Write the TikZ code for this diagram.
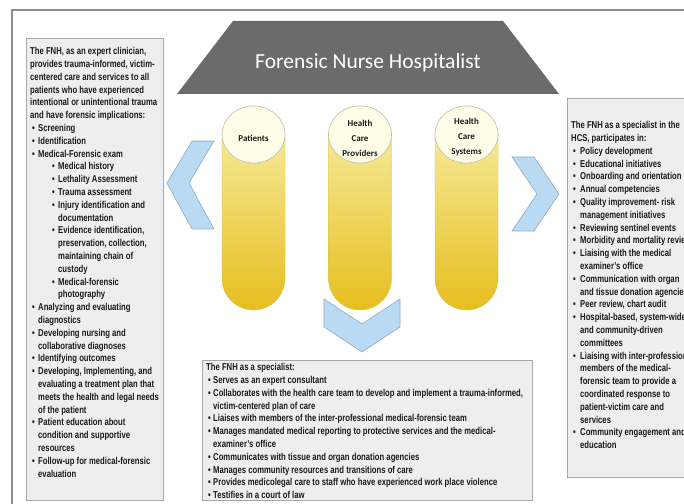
\documentclass[tikz,border=0pt]{standalone}
\usepackage{fontspec}
\setmainfont{Liberation Sans}
\newfontfamily\narrow{Liberation Sans}[FakeStretch=0.77]
\newfontfamily\calib{Carlito}
\usetikzlibrary{shapes.geometric}
\definecolor{panelfill}{HTML}{EEEEEE}
\definecolor{panelline}{HTML}{A8A8A8}
\definecolor{framecol}{HTML}{8E8E8E}
\definecolor{txtcol}{HTML}{1A1A1A}
\definecolor{chevfill}{HTML}{BADAF3}
\definecolor{chevline}{HTML}{8EAAC4}
\definecolor{titlegray}{HTML}{6B6B6B}
\definecolor{cyltop}{HTML}{F8F0A8}
\definecolor{cylbot}{HTML}{E6BE1E}
\definecolor{cylline}{HTML}{D8C060}
\definecolor{capfill}{HTML}{FFFDE8}
\definecolor{capline}{HTML}{BDBDA8}
\newcommand\bu{\hspace*{2bp}\makebox[6bp][l]{•}}
\newcommand\co{\hspace*{8bp}}
\newcommand\sbu{\hspace*{22bp}\makebox[6bp][l]{•}}
\newcommand\sco{\hspace*{28bp}}
\newcommand\rbu{\hspace*{2bp}\makebox[7bp][l]{•}}
\newcommand\rco{\hspace*{9bp}}
\newcommand\bbu{\hspace*{2bp}\makebox[5bp][l]{•}}
\newcommand\bco{\hspace*{7bp}}
\tikzset{
  panel/.style={rectangle, draw=panelline, fill=panelfill, line width=0.9bp, inner sep=0, anchor=north west},
  bodytxt/.style={font=\narrow\bfseries\fontsize{10bp}{12.8bp}\selectfont, align=left, inner sep=0, text=txtcol, anchor=north west},
  chev/.style={fill=chevfill, draw=chevline, line width=0.6bp, line join=miter},
  cylbody/.style={rectangle, rounded corners=31.5bp, minimum width=63bp, minimum height=204bp, inner sep=0, top color=cyltop, bottom color=cylbot, draw=cylline, line width=0.3bp},
  cylcap/.style={ellipse, minimum width=63bp, minimum height=57bp, inner sep=0, fill=capfill, draw=capline, line width=0.6bp},
  cyllabel/.style={font=\calib\bfseries\fontsize{9bp}{15bp}\selectfont, align=center, text=txtcol, inner sep=0},
  frameline/.style={draw=framecol, line width=1.2bp},
  titletxt/.style={font=\calib\fontsize{21.5bp}{24bp}\selectfont, text=white, inner sep=0}
}
\begin{document}
\begin{tikzpicture}[x=1bp,y=-1bp]
\useasboundingbox (0,0) rectangle (684,504);
\clip (0,0) rectangle (684,504);
\fill[white] (0,0) rectangle (684,504);
% frame
\coordinate (fb) at (12,504);
\coordinate (fc) at (12,10);
\coordinate (fr) at (684,10);
\draw[frameline] (fb) -- (fc) -- (fr);
% title
\fill[titlegray] (233,21) -- (503,21) -- (559,94) -- (177,94) -- cycle;
\node[titletxt] (title) at (368,63) {Forensic Nurse Hospitalist};
% chevrons
\draw[chev] (167,183) -- (192,141) -- (214,141) -- (189,183) -- (214,229) -- (192,229) -- cycle;
\draw[chev] (512,157) -- (534,157) -- (559,194) -- (534,231) -- (512,231) -- (537,194) -- cycle;
% cylinders
\node[cylbody] (cylA) at (253.5,208) {};
\node[cylbody] (cylB) at (360,208) {};
\node[cylbody] (cylC) at (466.5,208) {};
\draw[chev] (324,299) -- (362,324) -- (400,299) -- (400,327) -- (362,352) -- (324,327) -- cycle;
\node[cylcap] (capA) at (253.5,134.5) {};
\node[cylcap] (capB) at (360,134.5) {};
\node[cylcap] (capC) at (466.5,134.5) {};
\node[cyllabel] (labA) at (253.5,138) {Patients};
\node[cyllabel] (labB) at (360,138) {Health\\Care\\Providers};
\node[cyllabel] (labC) at (466.5,137) {Health\\Care\\Systems};
% panels
\node[panel, minimum width=137bp, minimum height=462bp] (lpanel) at (26,38) {};
\node[panel, minimum width=140bp, minimum height=379bp] (rpanel) at (567,98) {};
\node[panel, minimum width=330bp, minimum height=140bp] (bpanel) at (202,360) {};
% left text
\node[bodytxt] (ltext) at (30,47.3) {The FNH, as an expert clinician,\\
provides trauma-informed, victim-\\
centered care and services to all\\
patients who have experienced\\
intentional or unintentional trauma\\
and have forensic implications:\\
\bu Screening\\
\bu Identification\\
\bu Medical-Forensic exam\\
\sbu Medical history\\
\sbu Lethality Assessment\\
\sbu Trauma assessment\\
\sbu Injury identification and\\
\sco documentation\\
\sbu Evidence identification,\\
\sco preservation, collection,\\
\sco maintaining chain of\\
\sco custody\\
\sbu Medical-forensic\\
\sco photography\\
\bu Analyzing and evaluating\\
\co diagnostics\\
\bu Developing nursing and\\
\co collaborative diagnoses\\
\bu Identifying outcomes\\
\bu Developing, Implementing, and\\
\co evaluating a treatment plan that\\
\co meets the health and legal needs\\
\co of the patient\\
\bu Patient education about\\
\co condition and supportive\\
\co resources\\
\bu Follow-up for medical-forensic\\
\co evaluation};
% right text
\node[bodytxt] (rtext) at (571,121.3) {The FNH as a specialist in the\\
HCS, participates in:\\
\rbu Policy development\\
\rbu Educational initiatives\\
\rbu Onboarding and orientation\\
\rbu Annual competencies\\
\rbu Quality improvement- risk\\
\rco management initiatives\\
\rbu Reviewing sentinel events\\
\rbu Morbidity and mortality review\\
\rbu Liaising with the medical\\
\rco examiner’s office\\
\rbu Communication with organ\\
\rco and tissue donation agencies\\
\rbu Peer review, chart audit\\
\rbu Hospital-based, system-wide\\
\rco and community-driven\\
\rco committees\\
\rbu Liaising with inter-professional\\
\rco members of the medical-\\
\rco forensic team to provide a\\
\rco coordinated response to\\
\rco patient-victim care and\\
\rco services\\
\rbu Community engagement and\\
\rco education};
% bottom text
\node[bodytxt] (btext) at (206,363.3) {The FNH as a specialist:\\
\bbu Serves as an expert consultant\\
\bbu Collaborates with the health care team to develop and implement a trauma-informed,\\
\bco victim-centered plan of care\\
\bbu Liaises with\ members of the inter-professional medical-forensic team\\
\bbu Manages mandated medical reporting to protective services and the medical-\\
\bco examiner’s office\\
\bbu Communicates with tissue and organ donation agencies\\
\bbu Manages community resources and transitions of care\\
\bbu Provides medicolegal care to staff who have experienced work place violence\\
\bbu Testifies in a court of law};
\end{tikzpicture}
\end{document}
